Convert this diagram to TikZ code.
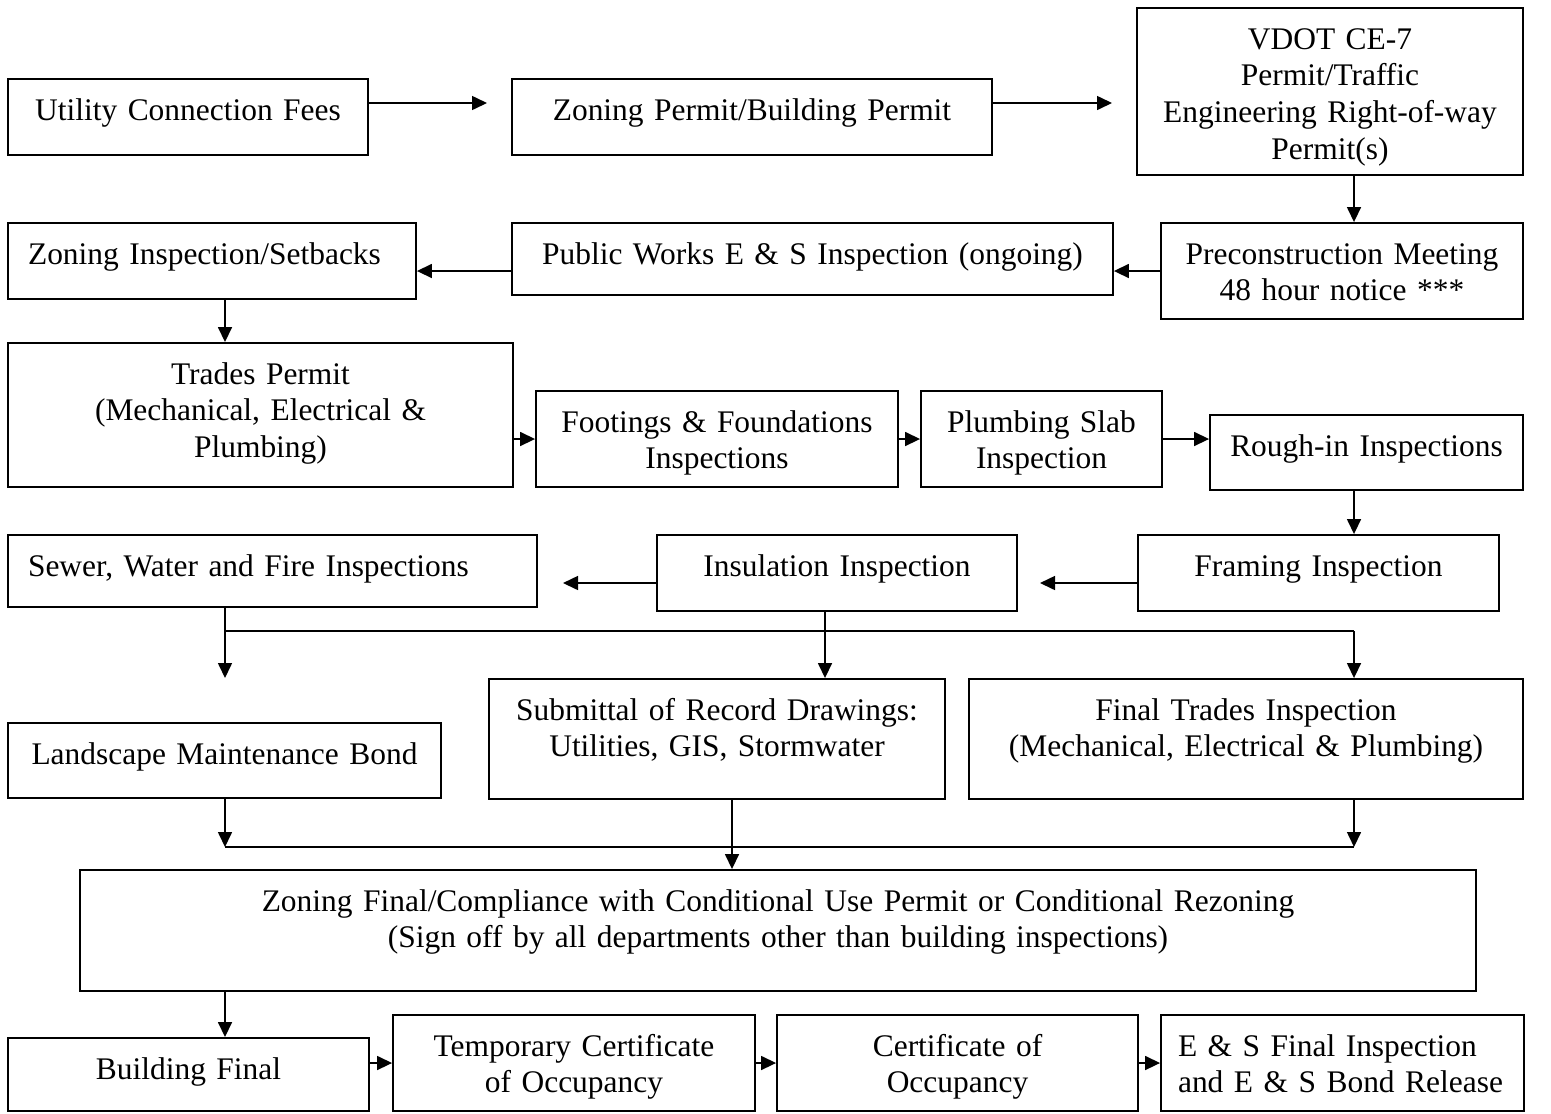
\documentclass[tikz,border=0pt]{standalone}
\usepackage{fontspec}
\setmainfont{Liberation Serif}
\usetikzlibrary{arrows.meta}

\tikzset{
  stage/.style={draw, line width=1.1pt, inner sep=0pt, align=center, text height=0.82cm},
  flow/.style={line width=0.9pt, -{Triangle[length=0.3cm, width=0.28cm]}},
  link/.style={line width=0.9pt}
}

\begin{document}
\begin{tikzpicture}[x=0.02cm, y=-0.02cm, font=\fontsize{17.9pt}{21pt}\selectfont]
  \useasboundingbox (0,0) rectangle (1551,1113);

  % first rows
  \node[stage, text width=7.2cm, text depth=0.70cm] (fees) at (188,117) {Utility Connection Fees};
  \node[stage, text width=9.6cm, text depth=0.70cm] (zpermit) at (752,117) {Zoning Permit/Building Permit};
  \node[stage, text width=7.72cm, text depth=2.52cm] (vdot) at (1330,91.5) {VDOT CE-7\\Permit/Traffic\\Engineering Right-of-way\\Permit(s)};
  \node[stage, text width=7.24cm, text depth=1.10cm] (precon) at (1342,271) {Preconstruction Meeting\\48 hour notice ***};
  \node[stage, text width=12.02cm, text depth=0.62cm] (public) at (812.5,259) {Public Works E \& S Inspection (ongoing)};
  \node[stage, align=left, inner xsep=0.4cm, text width=7.36cm, text depth=0.70cm] (zinsp) at (212,261) {Zoning Inspection/Setbacks};

  % trades and inspections
  \node[stage, text width=10.1cm, text depth=2.06cm] (trades) at (260.5,415) {Trades Permit\\(Mechanical, Electrical \&\\Plumbing)};
  \node[stage, text width=7.24cm, text depth=1.10cm] (footings) at (717,439) {Footings \& Foundations\\Inspections};
  \node[stage, text width=4.82cm, text depth=1.10cm] (plumbing) at (1041.5,439) {Plumbing Slab\\Inspection};
  \node[stage, text width=6.26cm, text depth=0.68cm] (roughin) at (1366.5,452.5) {Rough-in Inspections};
  \node[stage, text width=7.22cm, text depth=0.70cm] (framing) at (1318.5,573) {Framing Inspection};
  \node[stage, text width=7.2cm, text depth=0.70cm] (insul) at (837,573) {Insulation Inspection};
  \node[stage, align=left, inner xsep=0.4cm, text width=9.78cm, text depth=0.62cm] (sewer) at (272.5,571) {Sewer, Water and Fire Inspections};

  % finals
  \node[stage, text width=8.66cm, text depth=0.68cm] (landscape) at (224.5,760.5) {Landscape Maintenance Bond};
  \node[stage, text width=9.12cm, text depth=1.58cm] (submittal) at (717,739) {Submittal of Record Drawings:\\Utilities, GIS, Stormwater};
  \node[stage, text width=11.08cm, text depth=1.58cm] (ftrades) at (1246,739) {Final Trades Inspection\\(Mechanical, Electrical \& Plumbing)};
  \node[stage, text width=27.92cm, text depth=1.60cm] (zfinal) at (778,930.5) {Zoning Final/Compliance with Conditional Use Permit or Conditional Rezoning\\(Sign off by all departments other than building inspections)};
  \node[stage, text width=7.22cm, text depth=0.64cm] (bfinal) at (188.5,1074.5) {Building Final};
  \node[stage, text width=7.24cm, text depth=1.10cm] (tco) at (574,1063) {Temporary Certificate\\of Occupancy};
  \node[stage, text width=7.22cm, text depth=1.10cm] (co) at (957.5,1063) {Certificate of\\Occupancy};
  \node[stage, align=left, inner xsep=0.34cm, text width=6.58cm, text depth=1.10cm] (esfinal) at (1342.5,1063) {E \& S Final Inspection\\and E \& S Bond Release};

  % top row arrows
  \coordinate (feesTip) at (487,103);
  \coordinate (permitTip) at (1112,103);
  \draw[flow] (fees.east |- feesTip) -- (feesTip);
  \draw[flow] (zpermit.east |- permitTip) -- (permitTip);
  \coordinate (rightCol) at (1354,0);
  \coordinate (leftCol) at (225,0);
  \draw[flow] (vdot.south -| rightCol) -- (precon.north -| rightCol);
  \coordinate (row2) at (0,271);
  \draw[flow] (precon.west |- row2) -- (public.east |- row2);
  \draw[flow] (public.west |- row2) -- (zinsp.east |- row2);
  \draw[flow] (zinsp.south -| leftCol) -- (trades.north -| leftCol);

  % third row
  \draw[flow] (trades.east |- footings.west) -- (footings.west);
  \draw[flow] (footings.east) -- (plumbing.west);
  \draw[flow] (plumbing.east) -- (roughin.west |- plumbing.east);
  \draw[flow] (roughin.south -| rightCol) -- (framing.north -| rightCol);
  \coordinate (framingTip) at (1040,583);
  \coordinate (insulTip) at (563,583);
  \draw[flow] (framing.west |- framingTip) -- (framingTip);
  \draw[flow] (insul.west |- insulTip) -- (insulTip);

  % split
  \coordinate (splitL) at (225,631);
  \coordinate (splitR) at (1354,631);
  \coordinate (landTip) at (225,678);
  \draw[link] (sewer.south -| splitL) -- (splitL) -- (splitR);
  \draw[flow] (splitL) -- (landTip);
  \draw[flow] (splitR) -- (ftrades.north -| splitR);
  \coordinate (midCol) at (825,0);
  \draw[flow] (insul.south -| midCol) -- (submittal.north -| midCol);

  % merge
  \coordinate (mergeL) at (225,847);
  \coordinate (mergeR) at (1354,847);
  \draw[link] (mergeL) -- (mergeR);
  \draw[flow] (landscape.south -| mergeL) -- (mergeL);
  \draw[flow] (ftrades.south -| mergeR) -- (mergeR);
  \coordinate (subCol) at (732,0);
  \draw[flow] (submittal.south -| subCol) -- (zfinal.north -| subCol);

  % bottom row
  \draw[flow] (zfinal.south -| leftCol) -- (bfinal.north -| leftCol);
  \draw[flow] (bfinal.east |- tco.west) -- (tco.west);
  \draw[flow] (tco.east) -- (co.west);
  \draw[flow] (co.east) -- (esfinal.west);
\end{tikzpicture}
\end{document}
